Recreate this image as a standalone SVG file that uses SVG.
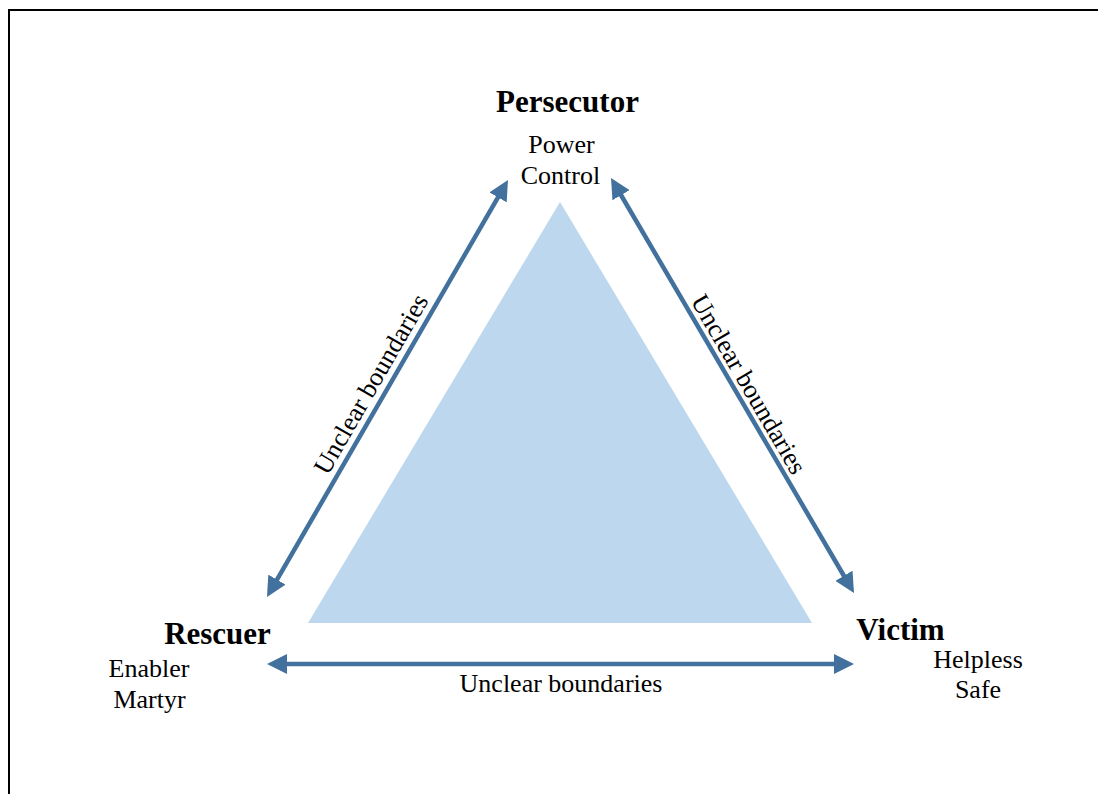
<svg xmlns="http://www.w3.org/2000/svg" width="1098" height="794" viewBox="0 0 1098 794">
  <style>
    .title { font-family: "Liberation Serif", "Times New Roman", serif; font-weight: bold; font-size: 31px; fill: #000; text-anchor: middle; }
    .sub { font-family: "Liberation Serif", "Times New Roman", serif; font-size: 26px; fill: #000; text-anchor: middle; }
    .conn { stroke: #41719C; stroke-width: 4.5; fill: none; marker-start: url(#ah); marker-end: url(#ah); }
  </style>
  <defs>
    <marker id="ah" markerUnits="userSpaceOnUse" markerWidth="20" markerHeight="20" viewBox="0 0 20 20" refX="2" refY="10" orient="auto-start-reverse">
      <path d="M0,0 L20,10 L0,20 z" fill="#41719C"/>
    </marker>
  </defs>
  <rect width="1098" height="794" fill="#fff"/>
  <path d="M9,794 V10 H1098" fill="none" stroke="#000" stroke-width="2"/>
  <polygon id="center-triangle" points="560,202 308,623 812,623" fill="#BDD7EE"/>
  <g id="connectors">
    <line class="conn" x1="276" y1="581.4" x2="499" y2="195.6"/>
    <line class="conn" x1="620.1" y1="193.5" x2="844.9" y2="577.5"/>
    <line class="conn" x1="285" y1="664" x2="836" y2="664"/>
    <text class="sub" x="378.4" y="388.3" transform="rotate(-60 378.4 388.3)">Unclear boundaries</text>
    <text class="sub" x="741.3" y="388.7" transform="rotate(59.7 741.3 388.7)">Unclear boundaries</text>
    <text class="sub" x="561" y="692">Unclear boundaries</text>
  </g>
  <g id="persecutor">
    <text class="title" x="567.5" y="112">Persecutor</text>
    <text class="sub" x="561.5" y="153">Power</text>
    <text class="sub" x="560.5" y="184">Control</text>
  </g>
  <g id="rescuer">
    <text class="title" x="217.5" y="644">Rescuer</text>
    <text class="sub" x="149" y="677">Enabler</text>
    <text class="sub" x="149.5" y="708">Martyr</text>
  </g>
  <g id="victim">
    <text class="title" x="900.5" y="640">Victim</text>
    <text class="sub" x="978" y="668">Helpless</text>
    <text class="sub" x="978" y="698">Safe</text>
  </g>
</svg>
